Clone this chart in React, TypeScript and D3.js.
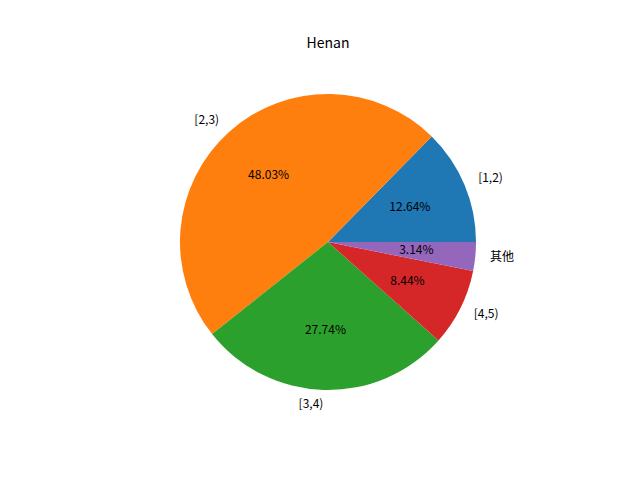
import React from "react";
import * as d3 from "d3";

const labels = ["[1,2)", "[2,3)", "[3,4)", "[4,5)", "其他"];
const values = [12.64, 48.03, 27.74, 8.44, 3.14];
const colors = ["#1f77b4", "#ff7f0e", "#2ca02c", "#d62728", "#9467bd"];

export default function App() {
  const cx = 328, cy = 242, r = 148;
  const total = d3.sum(values);
  const angle = d3.scaleLinear().domain([0, total]).range([0, 2 * Math.PI]);
  const cum = d3.cumsum(values);
  const arc = d3.arc<any>().innerRadius(0).outerRadius(r);
  const font = "'Noto Sans CJK SC', 'DejaVu Sans', sans-serif";
  return (
    <svg width={640} height={480} style={{ position: "absolute", left: 0, top: 0, background: "#fff" }}>
      <text x={cx} y={44} textAnchor="middle" dominantBaseline="middle" fontSize={14} fontFamily={font}>Henan</text>
      <g transform={`translate(${cx},${cy})`}>
        {values.map((v, i) => {
          const t1 = angle(cum[i] - v), t2 = angle(cum[i]);
          const mid = (t1 + t2) / 2;
          const lx = 1.1 * r * Math.cos(mid), ly = -1.1 * r * Math.sin(mid);
          const px = 0.6 * r * Math.cos(mid), py = -0.6 * r * Math.sin(mid);
          return (
            <g key={i}>
              <path d={arc({ startAngle: Math.PI / 2 - t2, endAngle: Math.PI / 2 - t1 }) as string} fill={colors[i]} />
              <text x={lx} y={ly} textAnchor={lx > 0 ? "start" : "end"} dominantBaseline="middle" fontSize={12} fontFamily={font}>{labels[i]}</text>
              <text x={px} y={py} textAnchor="middle" dominantBaseline="middle" fontSize={12} fontFamily={font}>{v.toFixed(2)}%</text>
            </g>
          );
        })}
      </g>
    </svg>
  );
}
